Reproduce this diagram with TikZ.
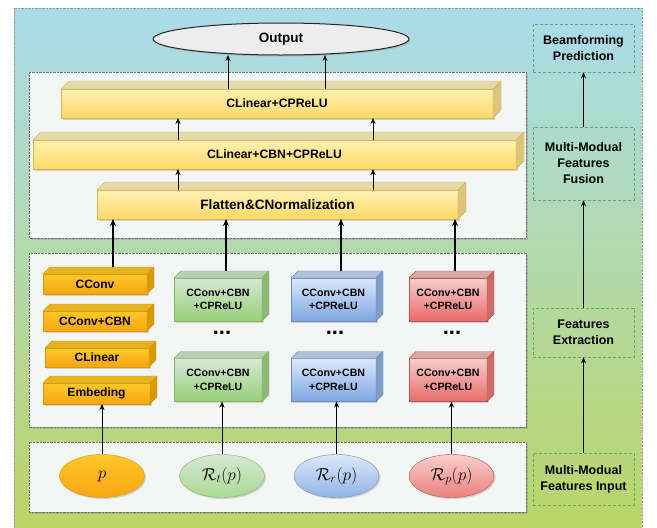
\documentclass[tikz,border=0pt]{standalone}
\usepackage{fontspec}
\setmainfont{Liberation Sans}
\usepackage{amsmath}
\usetikzlibrary{calc, positioning}
\usetikzlibrary{arrows.meta}
\usetikzlibrary{shapes.geometric}
\usetikzlibrary{shadows}

\definecolor{bgblue}{HTML}{AADCEC}
\definecolor{bggreen}{HTML}{B2D9A8}
\definecolor{bgyellow}{HTML}{BBD566}
\definecolor{panelfill}{HTML}{F4F6F6}
\definecolor{ytop}{HTML}{FFF2B3}
\definecolor{ybot}{HTML}{FFD966}
\definecolor{yedge}{HTML}{D6B656}
\definecolor{yface}{HTML}{E8D9A8}
\definecolor{yside}{HTML}{DCC47A}
\definecolor{otop}{HTML}{FFC72A}
\definecolor{obot}{HTML}{F7A614}
\definecolor{oedge}{HTML}{D79B00}
\definecolor{oface}{HTML}{E6B322}
\definecolor{oside}{HTML}{D99A00}
\definecolor{gtop}{HTML}{D5E8D4}
\definecolor{gbot}{HTML}{97D077}
\definecolor{gedge}{HTML}{82B366}
\definecolor{gface}{HTML}{B9CEB2}
\definecolor{gside}{HTML}{8DB878}
\definecolor{btop}{HTML}{DAE8FC}
\definecolor{bbot}{HTML}{7EA6E0}
\definecolor{bedge}{HTML}{6C8EBF}
\definecolor{bface}{HTML}{B0C2DA}
\definecolor{bside}{HTML}{7E9DC8}
\definecolor{rtop}{HTML}{F8CECC}
\definecolor{rbot}{HTML}{EA6B66}
\definecolor{redge}{HTML}{B85450}
\definecolor{rface}{HTML}{DAA9A7}
\definecolor{rside}{HTML}{CC6C68}
\definecolor{stepedge}{HTML}{4CAF6A}

% top and right faces of a 3d box around a front node
\newcommand{\cubefaces}[5]{%
  \filldraw[draw=#5, fill=#3, line join=round] (#1.north west) -- ++(#2,-#2) -- ($(#1.north east)+(#2,-#2)$) -- (#1.north east) -- cycle;
  \filldraw[draw=#5, fill=#4, line join=round] (#1.north east) -- ++(#2,-#2) -- ($(#1.south east)+(#2,-#2)$) -- (#1.south east) -- cycle;
}

\begin{document}
\begin{tikzpicture}[x=1pt, y=-1pt,
  shad/.style={drop shadow={shadow xshift=1.5pt, shadow yshift=-1.5pt, opacity=0.3}},
  panel/.style={fill=panelfill, draw=black!55, densely dotted, shad},
  front/.style={draw, inner sep=0pt, outer sep=0pt, align=center, shad},
  ybar/.style={front, draw=yedge, top color=ytop, bottom color=ybot, minimum height=29pt},
  obox/.style={front, draw=oedge, top color=otop, bottom color=obot, minimum width=104pt, minimum height=20pt,
    font=\fontsize{12}{14}\selectfont\bfseries},
  colbox/.style={front, minimum height=43pt, font=\fontsize{10.6}{13.5}\selectfont\bfseries},
  gbox/.style={colbox, draw=gedge, top color=gtop, bottom color=gbot, minimum width=88pt},
  bbox/.style={colbox, draw=bedge, top color=btop, bottom color=bbot, minimum width=85pt},
  rbox/.style={colbox, draw=redge, top color=rtop, bottom color=rbot, minimum width=78pt},
  inell/.style={ellipse, inner sep=0pt, minimum width=85pt, minimum height=43pt, shad, font=\fontsize{17}{19}\selectfont},
  stepbox/.style={draw=stepedge, densely dashed, line width=0.5pt, minimum width=101pt, inner sep=0pt, align=center,
    font=\fontsize{12.5}{16}\selectfont\bfseries},
  dots/.style={font=\fontsize{22}{22}\selectfont\bfseries},
  arr/.style={-{Stealth[length=7pt, width=6pt]}, line width=1.3pt},
  sarr/.style={-{Stealth[length=6pt, width=5pt]}, line width=1pt}
]
\useasboundingbox (0,0) rectangle (657,528);
% background
\shade[top color=bgblue, middle color=bggreen, bottom color=bgyellow, draw=black!40, densely dotted] (14,8) rectangle (642,528);

% panels
\draw[panel] (29,72) rectangle (526,238);
\draw[panel] (29,253) rectangle (526,427);
\draw[panel] (29,442) rectangle (526,512);

% output
\node[ellipse, draw=black!85, line width=1pt, fill=black!7, minimum width=256pt, minimum height=32pt, shad,
  font=\fontsize{13.5}{16}\selectfont\bfseries] (out) at (281,39) {Output};

% fusion layers
\node[ybar, minimum width=432pt, font=\fontsize{12.2}{14}\selectfont\bfseries] (lin2) at (277,103.5) {CLinear+CPReLU};
\cubefaces{lin2}{8}{yface}{yside}{yedge}
\node[ybar, minimum width=483pt, font=\fontsize{12.2}{14}\selectfont\bfseries] (lin1) at (274.5,154.5) {CLinear+CBN+CPReLU};
\cubefaces{lin1}{8}{yface}{yside}{yedge}
\node[ybar, minimum width=361pt, font=\fontsize{13.6}{16}\selectfont\bfseries] (flat) at (277.5,204.5) {Flatten\&CNormalization};
\cubefaces{flat}{8}{yface}{yside}{yedge}

% orange column
\node[obox] (cv) at (95,284) {CConv};
\cubefaces{cv}{7}{oface}{oside}{oedge}
\node[obox] (cvb) at (95,321) {CConv+CBN};
\cubefaces{cvb}{7}{oface}{oside}{oedge}
\node[obox, minimum height=19pt] (cln) at (97,357.5) {CLinear};
\cubefaces{cln}{7}{oface}{oside}{oedge}
\node[obox, minimum width=107pt, minimum height=21pt] (emb) at (96.5,393.5) {Embeding};
\cubefaces{emb}{7}{oface}{oside}{oedge}

% green column
\node[gbox] (g1) at (218,299.5) {CConv+CBN\\+CPReLU};
\cubefaces{g1}{7}{gface}{gside}{gedge}
\node[dots] (gd) at (222,333) {...};
\node[gbox] (g2) at (218,380) {CConv+CBN\\+CPReLU};
\cubefaces{g2}{7}{gface}{gside}{gedge}

% blue column
\node[bbox] (b1) at (333.5,299.5) {CConv+CBN\\+CPReLU};
\cubefaces{b1}{7}{bface}{bside}{bedge}
\node[dots] (bd) at (335,333) {...};
\node[bbox] (b2) at (333.5,380) {CConv+CBN\\+CPReLU};
\cubefaces{b2}{7}{bface}{bside}{bedge}

% red column
\node[rbox] (r1) at (448,299.5) {CConv+CBN\\+CPReLU};
\cubefaces{r1}{7}{rface}{rside}{redge}
\node[dots] (rd) at (452,333) {...};
\node[rbox] (r2) at (448,380) {CConv+CBN\\+CPReLU};
\cubefaces{r2}{7}{rface}{rside}{redge}

% inputs
\node[inell, draw=oedge, top color=otop, bottom color=obot] (pin) at (102,476) {$p$};
\node[inell, draw=gedge, top color=gtop, bottom color=gbot!80] (tin) at (222,476) {$\mathcal{R}_t(p)$};
\node[inell, draw=bedge, top color=btop, bottom color=bbot!85] (rin) at (336.5,476) {$\mathcal{R}_r(p)$};
\node[inell, draw=redge, top color=rtop, bottom color=rbot!85] (pp) at (451.5,476) {$\mathcal{R}_p(p)$};

% right column
\node[stepbox, minimum height=48pt] (bf) at (583.5,48) {Beamforming\\Prediction};
\node[stepbox, minimum height=73pt] (fus) at (583.5,163.5) {Multi-Modual\\Features\\Fusion};
\node[stepbox, minimum height=49pt] (ext) at (583.5,332.5) {Features\\Extraction};
\node[stepbox, minimum height=52pt] (inp) at (583.5,479) {Multi-Modual\\Features Input};

% arrows
\draw[sarr] (lin2.north -| 228,0) -- (228,55);
\draw[sarr] (lin2.north -| 325,0) -- (325,55);
\foreach \xx in {178,373} {
  \draw[sarr] (lin1.north -| \xx,0) -- (lin2.south -| \xx,0);
  \draw[sarr] (flat.north -| \xx,0) -- (lin1.south -| \xx,0);
}
\draw[arr] ($(cv.north)+(18,-7)$) -- (flat.south -| 113,0);
\draw[arr] ($(g1.north)+(8,-7)$) -- (flat.south -| 226,0);
\draw[arr] ($(b1.north)+(7.5,-7)$) -- (flat.south -| 341,0);
\draw[arr] ($(r1.north)+(7,-7)$) -- (flat.south -| 455,0);

\draw[sarr] (pin.north) -- (pin.north |- emb.south);
\draw[sarr] (tin.north) -- (tin.north |- g2.south);
\draw[sarr] (rin.north) -- (rin.north |- b2.south);
\draw[sarr] (pp.north) -- (pp.north |- r2.south);

\draw[sarr] (inp) -- (ext);
\draw[sarr] (ext) -- (fus);
\draw[sarr] (fus) -- (bf);
\end{tikzpicture}
\end{document}
